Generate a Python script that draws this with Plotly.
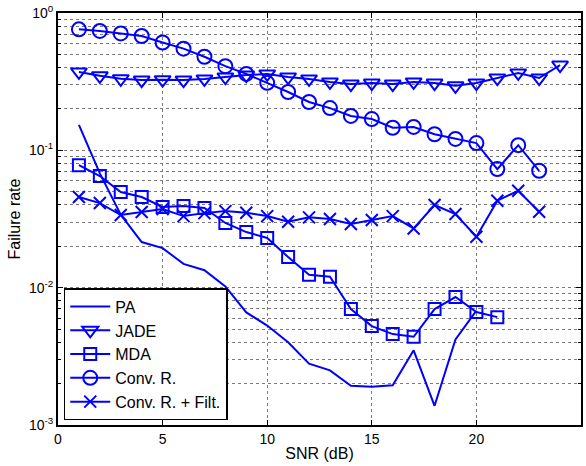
import plotly.graph_objects as go

snr_pa = list(range(1, 21))
pa = [0.153, 0.068, 0.034, 0.0215, 0.0194, 0.0149, 0.0134, 0.0102, 0.0066, 0.0053,
      0.0040, 0.0028, 0.0025, 0.00193, 0.0019, 0.00195, 0.0035, 0.00138, 0.0042, 0.0068]

snr_jade = list(range(1, 25))
jade = [0.372, 0.349, 0.332, 0.325, 0.327, 0.325, 0.331, 0.342, 0.353, 0.360,
        0.342, 0.331, 0.315, 0.304, 0.309, 0.304, 0.315, 0.309, 0.295, 0.309,
        0.336, 0.366, 0.336, 0.418]

snr_mda = list(range(1, 22))
mda = [0.078, 0.065, 0.0497, 0.0457, 0.0387, 0.0393, 0.038, 0.0296, 0.0254, 0.023,
       0.0167, 0.0124, 0.0120, 0.00698, 0.00525, 0.00459, 0.00439, 0.00698, 0.00855,
       0.00664, 0.0061]

snr_conv = list(range(1, 24))
conv = [0.76, 0.74, 0.71, 0.68, 0.61, 0.55, 0.48, 0.41, 0.36, 0.31, 0.266, 0.225,
        0.203, 0.178, 0.169, 0.146, 0.148, 0.131, 0.121, 0.113, 0.073, 0.109, 0.071]

snr_filt = list(range(1, 24))
filt = [0.0457, 0.0413, 0.0338, 0.0356, 0.0374, 0.0332, 0.0349, 0.0361, 0.0351, 0.0332,
        0.0302, 0.0325, 0.0316, 0.0291, 0.0311, 0.0332, 0.0270, 0.040, 0.0344, 0.0235,
        0.043, 0.0508, 0.0357]

x_ticks = [0, 5, 10, 15, 20, 25]
y_ticks = [0.001, 0.01, 0.1, 1]
y_ticktext = ["10<sup>-3</sup>", "10<sup>-2</sup>", "10<sup>-1</sup>", "10<sup>0</sup>"]

BLUE = "#0000ff"
fig = go.Figure()
line = dict(color=BLUE, width=2)

fig.add_trace(go.Scatter(x=snr_pa, y=pa, mode="lines", name="PA", line=line))
fig.add_trace(go.Scatter(x=snr_jade, y=jade, mode="lines+markers", name="JADE", line=line,
                         marker=dict(symbol="triangle-down-open", size=14, color=BLUE,
                                     line=dict(color=BLUE, width=2))))
fig.add_trace(go.Scatter(x=snr_mda, y=mda, mode="lines+markers", name="MDA", line=line,
                         marker=dict(symbol="square-open", size=12, color=BLUE,
                                     line=dict(color=BLUE, width=2))))
fig.add_trace(go.Scatter(x=snr_conv, y=conv, mode="lines+markers", name="Conv. R.", line=line,
                         marker=dict(symbol="circle-open", size=14, color=BLUE,
                                     line=dict(color=BLUE, width=2))))
fig.add_trace(go.Scatter(x=snr_filt, y=filt, mode="lines+markers", name="Conv. R. + Filt.", line=line,
                         marker=dict(symbol="x-thin-open", size=12, color=BLUE,
                                     line=dict(color=BLUE, width=2))))

minor_y = []
for d in [0.001, 0.01, 0.1]:
    for k in range(2, 10):
        minor_y.append(d * k)

GRID = "#7a7a7a"
fig.update_layout(
    width=586, height=466,
    margin=dict(l=58, r=3, t=13, b=41),
    paper_bgcolor="white", plot_bgcolor="white",
    font=dict(family="Liberation Sans, Arial, sans-serif", size=14, color="black"),
    showlegend=True,
    legend=dict(x=0.011, y=0.012, xanchor="left", yanchor="bottom",
                bgcolor="white", bordercolor="black", borderwidth=1.5,
                font=dict(size=16), itemwidth=40, tracegroupgap=0),
)
fig.update_xaxes(
    range=[0, 25], tickvals=x_ticks, ticks="inside", ticklen=5, tickcolor="black",
    showline=True, linecolor="black", linewidth=2, mirror="ticks",
    showgrid=True, gridcolor=GRID, griddash="dot", gridwidth=1, zeroline=False,
    title=dict(text="SNR (dB)", font=dict(size=16), standoff=2),
)
fig.update_yaxes(
    type="log", range=[-3, 0], tickvals=y_ticks, ticktext=y_ticktext,
    ticks="inside", ticklen=5, tickcolor="black", tickfont=dict(size=14),
    showline=True, linecolor="black", linewidth=2, mirror="allticks",
    showgrid=True, gridcolor=GRID, griddash="dot", gridwidth=1, zeroline=False,
    minor=dict(tickvals=minor_y, ticks="inside", ticklen=3, tickcolor="black",
               showgrid=True, gridcolor=GRID, griddash="dot", gridwidth=1),
    title=dict(text="Failure rate", font=dict(size=16), standoff=4),
)

fig.write_html("out.html")
